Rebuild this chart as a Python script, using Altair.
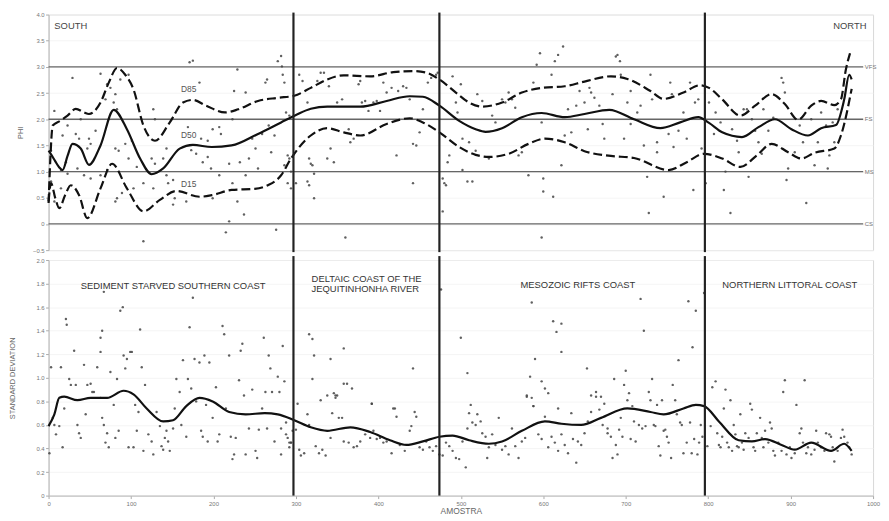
import altair as alt
import pandas as pd

# ---------------- data ----------------
D85_X = [0, 2, 5, 14, 23, 33, 43, 49, 63, 73, 83, 93, 103, 115, 129, 147, 163, 175, 191, 214,
         230, 254, 278, 298, 318, 338, 358, 390, 418, 442, 458, 474, 494, 510, 526, 550, 574, 598,
         626, 650, 682, 702, 730, 746, 770, 790, 801, 817, 839, 857, 877, 893, 909, 925, 937, 953,
         961, 967, 972]
D85_Y = [0.40, 1.20, 1.88, 1.97, 2.07, 2.20, 2.13, 2.10, 2.32, 2.70, 2.98, 2.85, 2.57, 1.88, 1.59,
         1.94, 2.32, 2.37, 2.26, 2.13, 2.19, 2.35, 2.41, 2.45, 2.60, 2.76, 2.84, 2.82, 2.90, 2.92,
         2.89, 2.76, 2.51, 2.32, 2.24, 2.32, 2.51, 2.60, 2.63, 2.72, 2.82, 2.77, 2.54, 2.39, 2.51,
         2.65, 2.60, 2.38, 2.07, 2.26, 2.48, 2.29, 1.99, 2.26, 2.35, 2.27, 2.38, 2.95, 3.26]

D50_X = [0, 3, 8, 13, 17, 23, 29, 39, 49, 63, 79, 95, 111, 125, 139, 159, 175, 198, 222, 254,
         282, 300, 318, 338, 378, 410, 438, 454, 474, 498, 518, 530, 550, 574, 598, 626, 650, 680,
         710, 742, 766, 788, 801, 817, 841, 861, 881, 901, 921, 937, 955, 965, 971, 974]
D50_Y = [1.40, 1.33, 1.20, 1.08, 1.03, 1.30, 1.53, 1.44, 1.13, 1.50, 2.18, 1.81, 1.25, 0.95, 1.06,
         1.44, 1.51, 1.47, 1.50, 1.72, 1.94, 2.08, 2.20, 2.24, 2.24, 2.35, 2.44, 2.43, 2.26, 1.97,
         1.81, 1.76, 1.83, 2.04, 2.12, 2.04, 2.10, 2.18, 2.00, 1.83, 1.94, 2.04, 1.93, 1.75, 1.66,
         1.85, 2.00, 1.81, 1.69, 1.83, 1.89, 2.38, 2.85, 2.76]

D15_X = [0, 3, 8, 13, 20, 27, 37, 47, 63, 77, 95, 115, 135, 155, 183, 198, 222, 250, 266, 282,
         294, 318, 338, 358, 378, 410, 438, 454, 474, 498, 518, 534, 558, 582, 602, 626, 650, 682,
         710, 752, 774, 795, 817, 839, 859, 877, 897, 913, 929, 953, 961, 974]
D15_Y = [0.43, 0.78, 0.50, 0.30, 0.55, 0.74, 0.55, 0.11, 0.68, 1.15, 0.68, 0.24, 0.46, 0.63, 0.52,
         0.55, 0.65, 0.67, 0.74, 0.93, 1.25, 1.69, 1.83, 1.75, 1.69, 1.91, 2.02, 1.94, 1.75, 1.47,
         1.32, 1.28, 1.34, 1.53, 1.63, 1.56, 1.39, 1.30, 1.26, 1.03, 1.18, 1.34, 1.25, 1.09, 1.31,
         1.53, 1.37, 1.25, 1.36, 1.44, 1.69, 2.58]

SD_X = [0, 7, 13, 19, 35, 51, 71, 91, 103, 119, 139, 151, 167, 183, 199, 219, 239, 262, 278, 298,
        318, 338, 366, 390, 414, 434, 454, 474, 490, 510, 534, 550, 574, 602, 622, 646, 670, 702,
        730, 746, 770, 785, 795, 813, 837, 853, 869, 889, 905, 925, 949, 965, 974]
SD_Y = [0.59, 0.69, 0.83, 0.84, 0.81, 0.83, 0.83, 0.89, 0.86, 0.74, 0.63, 0.64, 0.76, 0.83, 0.80,
        0.71, 0.69, 0.70, 0.69, 0.64, 0.58, 0.55, 0.58, 0.54, 0.47, 0.43, 0.46, 0.50, 0.51, 0.47,
        0.44, 0.46, 0.55, 0.63, 0.61, 0.60, 0.66, 0.74, 0.71, 0.69, 0.74, 0.77, 0.76, 0.63, 0.47,
        0.46, 0.48, 0.43, 0.39, 0.45, 0.38, 0.44, 0.38]

# individual samples, PHI (upper panel)
PHI_POINTS = [
    (7, 2.16), (29, 2.79), (3, 1.40), (3, 0.81), (17, 1.69), (23, 1.88), (21, 1.18), (33, 1.72),
    (39, 2.00), (37, 1.63), (49, 1.63), (51, 1.53), (57, 1.78), (63, 2.87), (69, 2.38), (71, 2.67),
    (75, 2.60), (81, 2.48), (79, 2.32), (83, 2.19), (87, 2.76), (81, 1.44), (85, 1.40), (93, 1.53),
    (97, 2.85), (97, 1.25), (101, 1.59), (107, 1.09), (71, 1.03), (63, 0.93), (51, 0.87), (43, 0.93),
    (23, 0.96), (15, 1.03), (81, 0.43), (83, 0.49), (89, 0.59), (115, -0.33), (127, 2.19), (129, 2.00),
    (125, 1.25), (129, 1.15), (139, 1.25), (143, 1.44), (143, 0.93), (151, 0.84), (145, 0.78),
    (153, 0.49), (169, 1.85), (171, 3.09), (175, 3.12), (183, 2.70), (173, 1.41), (179, 1.34),
    (187, 1.18), (193, 1.28), (197, 1.06), (193, 1.59), (185, 1.63), (199, 1.81), (207, 1.85),
    (209, 1.72), (219, 1.15), (223, 0.78), (229, 0.43), (237, 0.18), (215, -0.16), (219, 0.05),
    (223, 2.00), (225, 2.54), (229, 2.95), (239, 2.51), (247, 1.63), (251, 1.44), (243, 1.25),
    (259, 1.72), (263, 2.70), (265, 2.76), (267, 1.88), (274, 1.69), (276, -0.11), (278, 3.11),
    (282, 3.21), (284, 2.85), (286, 2.70), (292, 2.07), (290, 1.31), (294, 1.00), (294, 0.68),
    (270, 1.37), (254, 1.06), (239, 0.93), (232, 1.18), (207, 0.93), (199, 0.49), (167, 0.43),
    (151, 0.37), (127, 0.68), (115, 0.78), (103, 0.68), (47, 1.44), (35, 1.06), (15, 0.68), (7, 0.43),
    (283, 3.01), (288, 2.13), (292, 1.25), (286, 1.12), (290, 0.78), (300, 0.78), (304, 2.85),
    (308, 2.73), (314, 2.32), (316, 1.25), (318, 1.15), (320, 1.12), (322, 0.96), (314, 0.81),
    (316, 0.74), (322, 0.49), (326, 2.73), (330, 2.89), (334, 2.89), (340, 2.63), (342, 1.44),
    (346, 1.18), (338, 1.25), (350, 2.32), (356, 2.38), (360, -0.26), (364, 1.81), (366, 1.56),
    (370, 1.63), (376, 2.67), (378, 2.73), (380, 2.32), (384, 2.35), (388, 2.16), (394, 2.32),
    (398, 2.35), (402, 2.16), (406, 2.70), (410, 2.51), (416, 2.60), (422, 1.31), (424, 2.54),
    (430, 2.63), (434, 2.60), (438, 2.38), (442, 0.78), (442, 1.53), (446, 1.50), (450, 1.75),
    (454, 2.19), (460, 2.70), (464, 2.79), (470, 2.85), (472, 2.89), (478, 0.87), (478, 0.24),
    (480, 0.78), (482, 0.74), (484, 1.18), (486, 1.31), (490, 2.82), (494, 2.32), (496, 2.13),
    (500, 2.67), (502, 1.03), (508, 0.81), (514, 0.81), (502, 1.63), (510, 1.56), (518, 1.40),
    (520, 2.48), (526, 2.35), (534, 1.25), (538, 2.07), (542, 1.94), (550, 2.38), (554, 2.32),
    (558, 2.51), (562, 2.38), (566, 2.22), (570, 1.31), (574, 1.37), (582, 0.93), (588, 2.70),
    (592, 3.04), (596, 3.26), (598, 1.94), (600, 0.87), (600, 0.62), (598, -0.26), (610, 2.85),
    (614, 3.11), (618, 3.23), (624, 3.39), (612, 0.52), (622, 1.12), (626, 1.69), (630, 2.19),
    (634, 1.75), (640, 2.26), (644, 2.54), (650, 2.32), (654, 1.81), (658, 2.51),
    (656, 2.60), (662, 2.41), (668, 2.26), (674, 1.63), (672, 1.91), (684, 2.48), (688, 3.20),
    (690, 3.23), (693, 3.11), (694, 2.85), (698, 1.63), (702, 2.32), (706, 2.54), (706, 1.91),
    (714, 2.13), (718, 2.26), (722, 1.50), (726, 0.90), (728, 0.21), (730, 2.85), (732, 2.38),
    (738, 1.56), (738, 1.37), (746, 0.52), (752, 1.72), (754, 2.70), (756, 2.48), (758, 1.47),
    (764, 1.78), (770, 2.13), (774, 1.63), (778, 2.70), (782, 0.65), (784, 2.32), (788, 2.38),
    (792, 1.44), (797, 0.78), (801, 2.32), (807, 1.72), (809, 2.13), (815, 1.94), (819, 0.65),
    (821, 1.00), (827, 0.21), (829, 1.81), (835, 1.59), (837, 1.37), (843, 2.19), (847, 2.19),
    (849, 0.90), (853, 2.00), (857, 1.78), (861, 1.56), (865, 1.34), (867, 2.19), (873, 1.78),
    (879, 2.03), (889, 2.79), (891, 2.70), (893, 2.51), (895, 0.84), (897, 1.06), (905, 1.37),
    (911, 1.88), (915, 1.56), (919, 0.40), (925, 2.00), (929, 1.12), (933, 1.56), (937, 2.13),
    (943, 1.88), (945, 1.06), (947, 1.31), (951, 1.94), (953, 1.56), (957, 2.19),
]

# individual samples, standard deviation (lower panel)
SD_POINTS = [
    (1, 0.36), (3, 1.09), (5, 0.66), (7, 0.60), (9, 0.52), (13, 0.59), (15, 1.09), (17, 0.41),
    (19, 0.74), (21, 1.50), (22, 1.45), (25, 0.99), (27, 0.94), (31, 1.23), (33, 0.94), (35, 0.60),
    (37, 0.53), (39, 0.49), (43, 1.11), (45, 0.69), (47, 0.94), (51, 0.95), (53, 0.88), (55, 0.88),
    (59, 1.09), (63, 0.83), (65, 0.66), (67, 0.60), (63, 1.22), (63, 1.34), (65, 1.40), (67, 1.73),
    (69, 0.45), (71, 0.53), (73, 0.41), (75, 1.05), (79, 0.77), (81, 0.49), (83, 0.99), (85, 0.55),
    (87, 1.57), (90, 1.60), (91, 1.19), (93, 1.08), (95, 1.16), (97, 0.41), (99, 1.22), (101, 1.22),
    (103, 0.41), (105, 0.77), (107, 0.55), (109, 0.71), (111, 1.41), (113, 1.09), (115, 0.38),
    (117, 0.94), (121, 0.52), (125, 0.46), (127, 0.35), (131, 0.71), (135, 0.59), (137, 0.42),
    (139, 0.39), (141, 0.49), (143, 0.55), (145, 0.46), (147, 0.38), (151, 0.57), (153, 0.74),
    (155, 0.99), (159, 0.88), (161, 0.60), (163, 1.15), (167, 0.50), (169, 0.99), (171, 1.43),
    (173, 0.91), (175, 1.68), (177, 1.16), (179, 0.80), (183, 1.13), (185, 0.55), (187, 0.50),
    (189, 1.19), (191, 0.77), (193, 0.46), (195, 1.13), (199, 0.66), (203, 0.92), (205, 0.46),
    (207, 0.52), (211, 1.44), (213, 1.37), (215, 0.74), (219, 1.19), (221, 0.50), (223, 0.31),
    (225, 0.35), (227, 0.49), (231, 0.98), (233, 1.23), (235, 1.29), (237, 0.85), (239, 0.35),
    (243, 0.57), (247, 0.90), (251, 0.38), (253, 0.32), (255, 0.56), (259, 0.74), (261, 1.34),
    (263, 0.88), (265, 0.57), (267, 1.19), (269, 1.08), (271, 0.88), (274, 0.46), (278, 1.01),
    (280, 0.88), (282, 0.35), (284, 1.27), (286, 0.97), (288, 0.62), (290, 0.49), (292, 0.41),
    (294, 0.45), (296, 0.55),
    (316, 1.37), (320, 1.33), (322, 1.19), (320, 0.99), (342, 1.16), (346, 0.87), (348, 0.83),
    (350, 0.85), (358, 1.25), (358, 0.95), (362, 0.95), (368, 0.91), (392, 0.78), (420, 0.74),
    (442, 1.08), (476, 1.75), (500, 1.34), (508, 1.04), (586, 1.64), (590, 1.16), (584, 1.01),
    (598, 0.97), (602, 0.91), (612, 1.48), (616, 1.39), (622, 1.46), (622, 1.22), (580, 0.85),
    (588, 0.76), (606, 0.87), (618, 0.74), (653, 1.08), (658, 0.71),
    (282, 0.57), (288, 0.52), (292, 0.45), (294, 0.45), (302, 0.78), (300, 0.56), (304, 0.39),
    (306, 0.34), (310, 0.36), (314, 0.69), (316, 0.60), (324, 0.42), (328, 0.36), (332, 0.39),
    (336, 0.34), (330, 0.81), (338, 0.85), (344, 0.70), (342, 0.49), (348, 0.85), (352, 0.66),
    (356, 0.66), (358, 0.46), (364, 0.45), (370, 0.41), (374, 0.42), (378, 0.46), (384, 0.52),
    (390, 0.49), (392, 0.78), (394, 0.55), (398, 0.48), (402, 0.49), (406, 0.45), (410, 0.46),
    (416, 0.36), (418, 0.74), (422, 0.67), (426, 0.43), (432, 0.38), (438, 0.55), (440, 0.59),
    (444, 0.71), (446, 0.67), (450, 0.41), (454, 0.39), (458, 0.46), (462, 0.41), (466, 0.38),
    (470, 0.42), (474, 0.35), (478, 0.34), (482, 0.45), (486, 0.42), (490, 0.38), (494, 0.32),
    (498, 0.31), (502, 0.46), (506, 0.24), (508, 0.57), (510, 0.70), (512, 0.77), (514, 0.62),
    (518, 0.60), (520, 0.69), (524, 0.63), (526, 0.53), (530, 0.50), (534, 0.41), (532, 0.32),
    (538, 0.52), (542, 0.43), (546, 0.66), (550, 0.39), (554, 0.42), (558, 0.35), (562, 0.57),
    (566, 0.42), (570, 0.32), (574, 0.46), (578, 0.49), (580, 0.84), (586, 0.83), (588, 0.76),
    (594, 0.52), (598, 0.48), (602, 0.67), (606, 0.41), (610, 0.50), (614, 0.45), (618, 0.38),
    (622, 0.52), (626, 0.43), (630, 0.36), (634, 0.70), (636, 0.48), (640, 0.28), (642, 0.46),
    (646, 0.43), (650, 0.53), (654, 0.63), (658, 0.85), (664, 0.84), (668, 0.73), (672, 0.60),
    (678, 0.57), (684, 0.32),
    (664, 0.88), (670, 0.84), (674, 0.78), (678, 0.53), (682, 0.50), (686, 0.99), (688, 0.43),
    (690, 0.35), (692, 0.56), (694, 0.66), (696, 0.50), (698, 0.94), (700, 1.06), (702, 0.81),
    (704, 0.87), (706, 0.48), (708, 0.76), (710, 0.63), (712, 0.46), (716, 0.60), (718, 1.67),
    (720, 0.57), (722, 1.40), (724, 0.59), (728, 0.88), (730, 0.81), (732, 0.99), (734, 0.60),
    (736, 0.59), (738, 0.77), (740, 0.42), (742, 0.34), (744, 0.81), (746, 0.55), (748, 0.56),
    (750, 0.50), (752, 0.45), (755, 0.32), (757, 0.94), (760, 0.81), (762, 0.69), (764, 1.15),
    (766, 0.62), (768, 0.60), (770, 0.36), (774, 0.45), (776, 1.65), (778, 0.62), (780, 0.36),
    (781, 1.26), (783, 0.48), (785, 1.57), (787, 0.35), (789, 0.45), (791, 0.60), (793, 0.50),
    (795, 1.72), (799, 0.42), (803, 0.59), (805, 0.92), (809, 0.97), (811, 0.53), (813, 0.43),
    (815, 0.41), (817, 0.50), (819, 0.74), (821, 0.90), (823, 0.45), (825, 0.41), (827, 0.81),
    (829, 0.38), (831, 0.60), (833, 0.52), (835, 0.42), (837, 0.41), (839, 0.69), (841, 0.45),
    (843, 0.39), (845, 0.53), (849, 0.49), (851, 0.78), (853, 0.73), (855, 0.41), (857, 0.38),
    (859, 0.53), (863, 0.66), (865, 0.49), (867, 0.41), (869, 0.55), (873, 0.45), (875, 0.62),
    (877, 0.57), (879, 0.38), (881, 0.34), (885, 0.45), (889, 0.38), (891, 0.88), (893, 0.98),
    (895, 0.35), (899, 0.41), (901, 0.32), (905, 0.36), (907, 0.77), (911, 0.53), (913, 0.57),
    (915, 0.45), (917, 0.98), (919, 0.36), (921, 0.41), (925, 0.35), (929, 0.39), (931, 0.55),
    (933, 0.45), (937, 0.41), (941, 0.38), (943, 0.53), (947, 0.52), (949, 0.50), (951, 0.41),
    (953, 0.29), (957, 0.38), (961, 0.49), (963, 0.56), (965, 0.50), (969, 0.45), (971, 0.41),
    (974, 0.35),
]

CLASS_LEVELS = [3.0, 2.0, 1.0, 0.0]
CLASS_NAMES = ["VFS", "FS", "MS", "CS"]
BOUNDARIES = [297, 474, 796]

CURVE_LABELS = ["D85", "D50", "D15"]
CURVE_LABEL_X = [170, 170, 170]
CURVE_LABEL_Y = [2.58, 1.70, 0.77]

REGION_NAMES = ["SEDIMENT STARVED SOUTHERN COAST", "DELTAIC COAST OF THE", "JEQUITINHONHA RIVER",
                "MESOZOIC RIFTS COAST", "NORTHERN LITTORAL COAST"]
REGION_X = [151, 319, 319, 642, 899]
REGION_Y = [1.78, 1.84, 1.75, 1.79, 1.79]
REGION_ALIGN = ["center", "left", "left", "center", "center"]

# ---------------- chart ----------------
W, H = 833, 238
FONT = "Liberation Sans"

xs = alt.Scale(domain=[0, 1000], nice=False)
ys_top = alt.Scale(domain=[-0.5, 4.0], nice=False)
ys_bot = alt.Scale(domain=[0, 2.0], nice=False)

top_ticks = [-0.5, 0, 0.5, 1.0, 1.5, 2.0, 2.5, 3.0, 3.5, 4.0]
bot_ticks = [0, 0.2, 0.4, 0.6, 0.8, 1.0, 1.2, 1.4, 1.6, 1.8, 2.0]
x_ticks = list(range(0, 1001, 100))
label_expr = "datum.value == 0 ? '0' : format(datum.value, '.1f')"

phi_df = pd.DataFrame(PHI_POINTS, columns=["x", "y"])
sd_df = pd.DataFrame(SD_POINTS, columns=["x", "y"])
curves = pd.concat([
    pd.DataFrame({"x": D85_X, "y": D85_Y, "c": "D85"}),
    pd.DataFrame({"x": D50_X, "y": D50_Y, "c": "D50"}),
    pd.DataFrame({"x": D15_X, "y": D15_Y, "c": "D15"}),
])
sd_curve = pd.DataFrame({"x": SD_X, "y": SD_Y})
levels = pd.DataFrame({"y": CLASS_LEVELS, "name": CLASS_NAMES, "x0": 0, "x1": 988, "xl": 990})
bounds = pd.DataFrame({"x": BOUNDARIES})
clabels = pd.DataFrame({"x": CURVE_LABEL_X, "y": CURVE_LABEL_Y, "t": CURVE_LABELS})
regions = pd.DataFrame({"x": REGION_X, "y": REGION_Y, "t": REGION_NAMES, "a": REGION_ALIGN})

x_top = alt.X("x:Q", scale=xs, axis=None)
y_top_axis = alt.Axis(values=top_ticks, labelExpr=label_expr, title="PHI", labelOverlap=False,
                      titleX=-28, titleY=H / 2, titleBaseline="middle")
y_top = alt.Y("y:Q", scale=ys_top, axis=y_top_axis)

top_points = alt.Chart(phi_df).mark_circle(size=6, color="#444", opacity=0.85).encode(
    x=x_top, y=y_top)
top_levels = alt.Chart(levels).mark_rule(color="#666", strokeWidth=1.3).encode(
    x=alt.X("x0:Q", scale=xs, axis=None), x2="x1:Q", y=y_top)
top_level_text = alt.Chart(levels).mark_text(align="left", baseline="middle", fontSize=6,
                                             color="#777", font=FONT).encode(
    x=alt.X("xl:Q", scale=xs, axis=None), y=y_top, text="name:N")
dashed = alt.Chart(curves).transform_filter("datum.c != 'D50'").mark_line(
    color="#111", strokeWidth=2.2, strokeDash=[9, 4], interpolate="monotone").encode(
    x=x_top, y=y_top, detail="c:N")
solid = alt.Chart(curves).transform_filter("datum.c == 'D50'").mark_line(
    color="#111", strokeWidth=2.2, interpolate="monotone").encode(
    x=x_top, y=y_top)
curve_text = alt.Chart(clabels).mark_text(fontSize=8.5, color="#555", font=FONT).encode(
    x=x_top, y=y_top, text="t:N")
top_bounds = alt.Chart(bounds).mark_rule(color="#222", strokeWidth=2.2).encode(
    x=x_top, y=alt.value(-2), y2=alt.value(H + 2))
south = alt.Chart(pd.DataFrame({"x": [7], "y": [3.78], "t": ["SOUTH"]})).mark_text(
    align="left", baseline="middle", fontSize=9.5, color="#444", font=FONT).encode(
    x=x_top, y=y_top, text="t:N")
north = alt.Chart(pd.DataFrame({"x": [992], "y": [3.78], "t": ["NORTH"]})).mark_text(
    align="right", baseline="middle", fontSize=9.5, color="#444", font=FONT).encode(
    x=x_top, y=y_top, text="t:N")

top = alt.layer(top_levels, top_level_text, top_points, dashed, solid, curve_text,
                top_bounds, south, north).properties(width=W, height=H)

x_bot = alt.X("x:Q", scale=xs, axis=alt.Axis(values=x_ticks, format="d", title="AMOSTRA",
                                              grid=False, titleFontSize=8.5, titlePadding=1,
                                              labelOverlap=False))
y_bot_axis = alt.Axis(values=bot_ticks, labelExpr=label_expr, title="STANDARD DEVIATION",
                      labelOverlap=False, titleX=-36, titleY=H / 2, titleBaseline="middle")
y_bot = alt.Y("y:Q", scale=ys_bot, axis=y_bot_axis)

bot_points = alt.Chart(sd_df).mark_circle(size=6, color="#444", opacity=0.85).encode(
    x=x_bot, y=y_bot)
bot_curve = alt.Chart(sd_curve).mark_line(color="#111", strokeWidth=2.2,
                                          interpolate="monotone").encode(x=x_bot, y=y_bot)
bot_bounds = alt.Chart(bounds).mark_rule(color="#222", strokeWidth=2.2).encode(
    x=x_bot, y=alt.value(-4), y2=alt.value(H))
region_layers = []
for al in ["left", "center"]:
    region_layers.append(
        alt.Chart(regions).transform_filter(f"datum.a == '{al}'").mark_text(
            align=al, baseline="middle", fontSize=9.5, color="#333", font=FONT).encode(
            x=x_bot, y=y_bot, text="t:N"))

bottom = alt.layer(bot_points, bot_curve, bot_bounds, *region_layers).properties(width=W, height=H)

chart = alt.vconcat(top, bottom, spacing=0).properties(
    padding={"left": 0, "top": 0, "right": 0, "bottom": 0}
).configure_view(stroke="#d8d8d8", strokeWidth=1).configure_axis(
    labelFont=FONT, labelFontSize=6, labelColor="#777", tickColor="#aaa", tickSize=3,
    labelPadding=1.5, domainColor="#bbb", titleFont=FONT, titleFontSize=7.5,
    titleFontWeight="normal", titleColor="#666", gridColor="#f1f1f1", gridWidth=0.8,
    labelOverlap=False, labelBound=False, labelFlush=False
).configure_axisX(grid=False)

chart.save("out.html", embed_options={"renderer": "svg", "actions": False})
